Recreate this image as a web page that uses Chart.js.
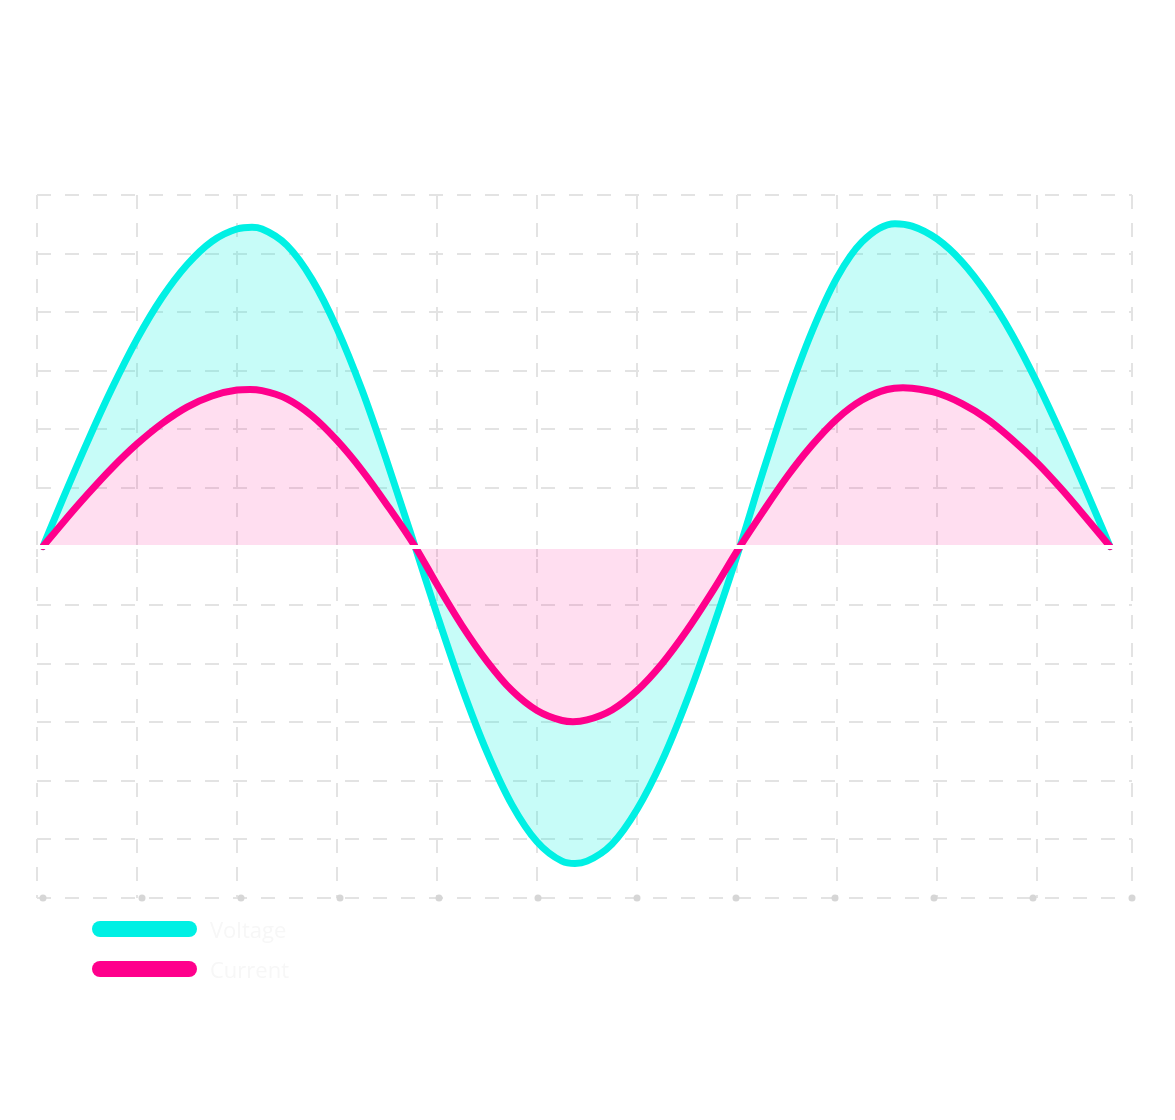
<!DOCTYPE html>
<html>
<head>
<meta charset="utf-8">
<script src="https://cdn.jsdelivr.net/npm/chart.js@4"></script>
<style>
  body { margin: 0; background: #fff; }
  #wrap { position: relative; width: 1175px; height: 1120px; }
  #legend { position: absolute; left: 92px; top: 909px; font-family: "Open Sans", sans-serif; }
  .item { display: flex; align-items: center; height: 40px; }
  .bar { width: 105px; height: 16px; border-radius: 8px; margin-right: 13px; }
  .label { font-size: 22px; color: #f7f7f7; }
</style>
</head>
<body>
<div id="wrap">
  <canvas id="myChart" width="1175" height="1120"></canvas>
  <div id="legend"></div>
</div>
<script>
// Voltage samples (x in grid units, y in volts)
const voltageX = [0.06, 0.25, 0.5, 0.75, 1, 1.25, 1.5, 1.75, 2, 2.15, 2.25, 2.5, 2.75, 3, 3.25, 3.5, 3.78,
                  4, 4.25, 4.5, 4.75, 5, 5.25, 5.38, 5.5, 5.75, 6, 6.25, 6.5, 6.75, 7.03,
                  7.25, 7.5, 7.75, 8, 8.25, 8.58, 8.75, 9, 9.25, 9.5, 9.75, 10, 10.25, 10.5, 10.73];
const voltageY = [0, 0.78, 1.77, 2.70, 3.54, 4.25, 4.81, 5.21, 5.42, 5.45, 5.42, 5.14, 4.56, 3.72, 2.67, 1.45, 0,
                  -1.16, -2.41, -3.51, -4.41, -5.04, -5.37, -5.41, -5.37, -5.08, -4.49, -3.66, -2.62, -1.43, 0,
                  1.22, 2.53, 3.67, 4.59, 5.20, 5.51, 5.47, 5.25, 4.86, 4.31, 3.62, 2.80, 1.89, 0.92, 0];

// Current samples
const currentX = [0.06, 0.25, 0.5, 0.75, 1, 1.25, 1.5, 1.75, 2, 2.13, 2.25, 2.5, 2.75, 3, 3.25, 3.5, 3.78,
                  4, 4.25, 4.5, 4.75, 5, 5.25, 5.36, 5.5, 5.75, 6, 6.25, 6.5, 6.75, 7.03,
                  7.25, 7.5, 7.75, 8, 8.25, 8.5, 8.66, 8.75, 9, 9.25, 9.5, 9.75, 10, 10.25, 10.5, 10.73];
const currentY = [0, 0.39, 0.88, 1.34, 1.75, 2.10, 2.38, 2.57, 2.67, 2.68, 2.66, 2.52, 2.23, 1.81, 1.30, 0.71, 0,
                  -0.65, -1.35, -1.96, -2.46, -2.80, -2.97, -2.99, -2.96, -2.79, -2.46, -2.00, -1.43, -0.78, 0,
                  0.57, 1.19, 1.73, 2.18, 2.50, 2.68, 2.71, 2.70, 2.62, 2.44, 2.18, 1.83, 1.43, 0.97, 0.47, 0];

// Tick dots along the bottom edge
const dotX = [0.06, 1.05, 2.04, 3.03, 4.02, 5.01, 6.00, 6.99, 7.98, 8.97, 9.96, 10.95];
const dotY = [-6, -6, -6, -6, -6, -6, -6, -6, -6, -6, -6, -6];

const seriesNames = ['Voltage', 'Current'];

function toPoints(xs, ys) {
    return xs.map((x, i) => ({ x: x, y: ys[i] }));
}

const chart = new Chart("myChart", {
    type: "line",
    data: {
        datasets: [{
            label: seriesNames[0],
            data: toPoints(voltageX, voltageY),
            borderColor: "rgb(0,240,228)",
            backgroundColor: "rgba(0,240,225,0.22)",
            borderWidth: 7,
            borderCapStyle: "round",
            borderJoinStyle: "round",
            pointRadius: 0,
            cubicInterpolationMode: "monotone",
            fill: "+1",
            order: 1
        }, {
            label: seriesNames[1],
            data: toPoints(currentX, currentY),
            borderColor: "rgb(255,0,140)",
            backgroundColor: "rgba(255,0,140,0.13)",
            borderWidth: 7,
            borderCapStyle: "round",
            borderJoinStyle: "round",
            pointRadius: 0,
            cubicInterpolationMode: "monotone",
            fill: "origin",
            order: 0
        }, {
            label: "ticks",
            data: toPoints(dotX, dotY),
            showLine: false,
            pointRadius: 3.5,
            pointBackgroundColor: "#d6d6d6",
            pointBorderWidth: 0,
            clip: false,
            fill: false,
            order: 2
        }]
    },
    options: {
        responsive: false,
        animation: false,
        layout: {
            padding: { left: 37, top: 195, right: 43, bottom: 222 }
        },
        scales: {
            x: {
                type: "linear",
                position: { y: 0 },
                min: 0,
                max: 10.95,
                ticks: { display: false, stepSize: 1 },
                grid: {
                    color: "#e3e3e3",
                    lineWidth: 2,
                    tickLength: 8,
                    tickColor: "#e3e3e3"
                },
                border: { display: true, color: "#ffffff", width: 4, dash: [14, 14], z: 1 }
            },
            y: {
                min: -6,
                max: 6,
                ticks: { display: false, stepSize: 1 },
                grid: {
                    color: "#e3e3e3",
                    lineWidth: 2,
                    drawTicks: false
                },
                border: { display: false, dash: [14, 14] }
            }
        },
        plugins: {
            legend: { display: false },
            tooltip: { enabled: false }
        }
    }
});

// Build the legend from the chart's datasets
const legendEl = document.getElementById("legend");
chart.data.datasets.slice(0, 2).forEach(ds => {
    const row = document.createElement("div");
    row.className = "item";
    const bar = document.createElement("span");
    bar.className = "bar";
    bar.style.background = ds.borderColor;
    const txt = document.createElement("span");
    txt.className = "label";
    txt.textContent = ds.label;
    row.appendChild(bar);
    row.appendChild(txt);
    legendEl.appendChild(row);
});
</script>
</body>
</html>
